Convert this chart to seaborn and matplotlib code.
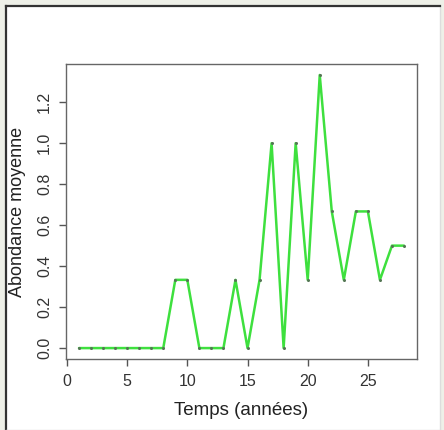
import numpy as np
import pandas as pd
import matplotlib
matplotlib.use("Agg")
import matplotlib.pyplot as plt
import seaborn as sns

annees = list(range(1, 29))
abondance = [0, 0, 0, 0, 0, 0, 0, 0,
             0.333, 0.333, 0, 0, 0, 0.333, 0, 0.333,
             1.0, 0, 1.0, 0.333, 1.333, 0.667, 0.333, 0.667,
             0.667, 0.333, 0.5, 0.5]
xticks = [0, 5, 10, 15, 20, 25]
yticks = [0.0, 0.2, 0.4, 0.6, 0.8, 1.0, 1.2]

df = pd.DataFrame({"annee": annees, "abondance": abondance})

sns.set_style("white")
plt.rcParams["font.family"] = ["Liberation Sans", "DejaVu Sans"]

fig = plt.figure(figsize=(4.44, 4.30), dpi=100)
fig.patch.set_facecolor("#eef0e8")
# panneau blanc avec bord sombre en haut et a gauche
panel = fig.add_axes([6/444, 0, 1 - 6/444 - 4/444, 1 - 6/430])
panel.set_facecolor("white")
panel.set_xticks([]); panel.set_yticks([])
for s in ["top", "left"]:
    panel.spines[s].set_color("#333333")
    panel.spines[s].set_linewidth(1.6)
for s in ["right", "bottom"]:
    panel.spines[s].set_color("#dddddd")
    panel.spines[s].set_linewidth(1.0)

ax = fig.add_axes([66/444, 1 - 359/430, (417 - 66)/444, (359 - 64)/430])
sns.lineplot(data=df, x="annee", y="abondance", ax=ax, color="#3ee03e",
             linewidth=1.8, marker="o", markersize=2.2, markerfacecolor="#557755",
             markeredgecolor="none")
ax.set_xlim(-0.08, 29.08)
ax.set_ylim(-0.0533, 1.3866)
ax.set_xticks(xticks)
ax.set_yticks(yticks)
ax.set_xticklabels([str(t) for t in xticks], fontsize=11.5, color="#333333")
ax.set_yticklabels([f"{t:.1f}" for t in yticks], fontsize=11.5, color="#333333",
                   rotation=90, va="center")
ax.tick_params(axis="x", direction="out", length=5, width=1, color="#555555",
               bottom=True, pad=6)
ax.tick_params(axis="y", direction="out", length=5, width=1, color="#555555",
               left=True, pad=5)
ax.set_xlabel("Temps (années)", fontsize=13.5, color="#222222", labelpad=9)
ax.set_ylabel("Abondance moyenne", fontsize=13, color="#222222", labelpad=8)
for s in ax.spines.values():
    s.set_color("#666666")
    s.set_linewidth(1.0)
    s.set_visible(True)

fig.savefig("out.png", dpi=100)
